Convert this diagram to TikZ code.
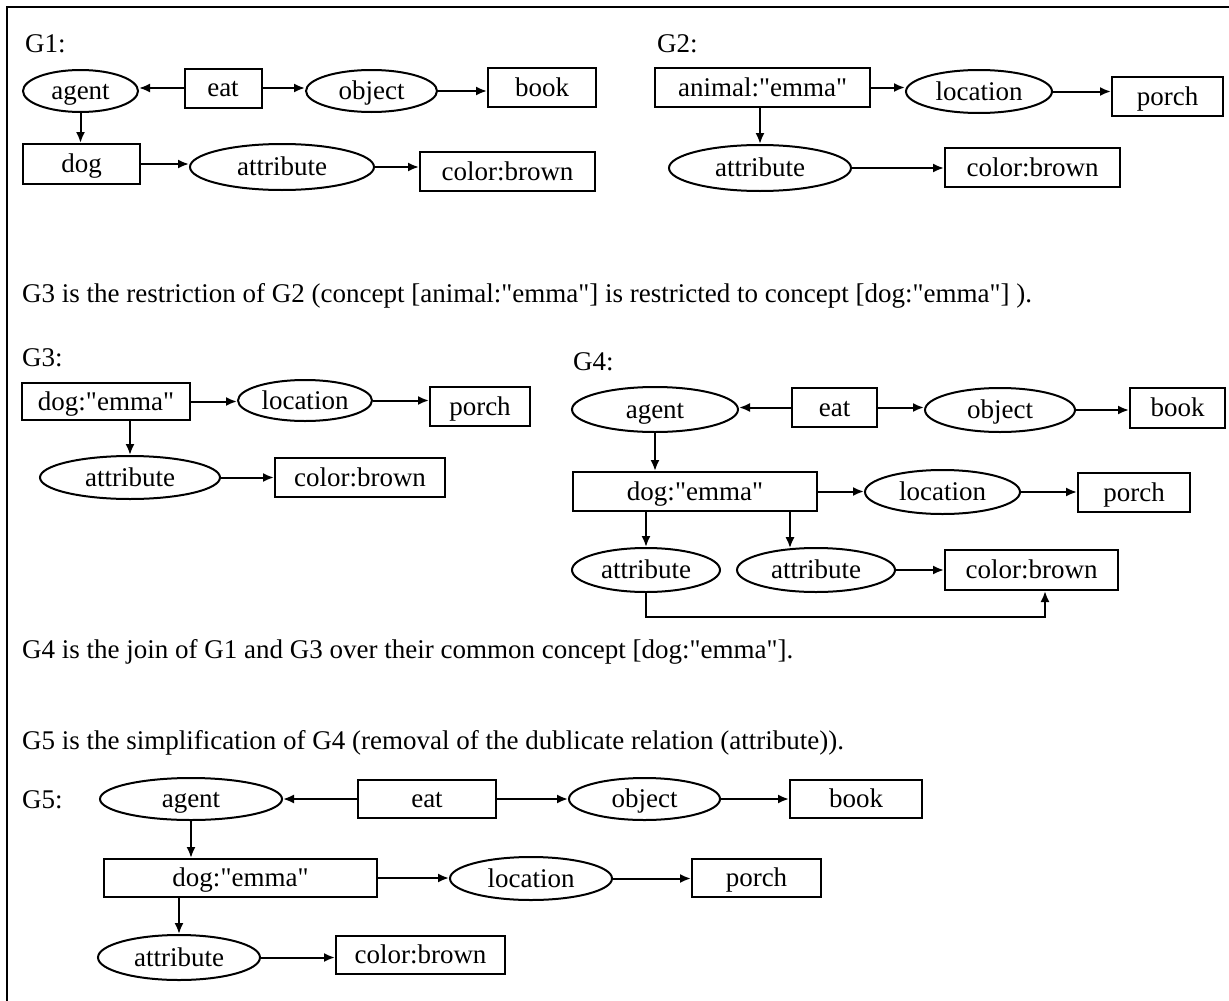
\documentclass[tikz,border=0pt]{standalone}
\usepackage{fontspec}
\setmainfont{Liberation Serif}
\usetikzlibrary{shapes.geometric,arrows.meta}
\newcommand{\qd}{\textquotedbl}
\tikzset{
  cbox/.style={draw, line width=2pt, rectangle, inner sep=0pt, text height=21pt, text depth=4pt},
  rel/.style={draw, line width=2pt, ellipse, inner sep=0pt, text height=21pt, text depth=4pt},
  arr/.style={line width=2pt, -{Latex[length=11pt,width=9pt]}},
  lbl/.style={anchor=west, inner sep=0pt},
  frame/.style={line width=2.4pt},
}
\begin{document}
\begin{tikzpicture}[x=1pt,y=-1pt,every node/.append style={font=\fontsize{27}{31}\selectfont}]
\useasboundingbox (0,0) rectangle (1229,1001);
\draw[frame] (7,1001) -- (7,7) -- (1229,7);

% ---------------- G1 ----------------
\node[lbl] (l1) at (25,44) {G1:};
\node[rel, minimum width=115, minimum height=42] (g1agent) at (80.5,91) {agent};
\node[cbox, minimum width=77, minimum height=39] (g1eat) at (223,88) {eat};
\node[rel, minimum width=131, minimum height=42] (g1obj) at (371.5,91) {object};
\node[cbox, minimum width=108, minimum height=39] (g1book) at (542,87.5) {book};
\node[cbox, minimum width=117, minimum height=40] (g1dog) at (81.5,164) {dog};
\node[rel, minimum width=184, minimum height=46] (g1attr) at (282,167) {attribute};
\node[cbox, minimum width=175, minimum height=39] (g1cb) at (507.5,171.5) {color:brown};
\draw[arr] (g1eat.west) -- (g1eat.west -| g1agent.east);
\draw[arr] (g1eat.east) -- (g1eat.east -| g1obj.west);
\draw[arr] (g1obj.east) -- (g1obj.east -| g1book.west);
\draw[arr] (g1agent.south) -- (g1agent.south |- g1dog.north);
\draw[arr] (g1dog.east) -- (g1dog.east -| g1attr.west);
\draw[arr] (g1attr.east) -- (g1attr.east -| g1cb.west);

% ---------------- G2 ----------------
\node[lbl] (l2) at (657,44) {G2:};
\node[cbox, minimum width=215, minimum height=39] (g2animal) at (762.5,87.5) {animal:\qd emma\qd};
\node[rel, minimum width=146, minimum height=43] (g2loc) at (979,91.5) {location};
\node[cbox, minimum width=111, minimum height=39] (g2porch) at (1167.5,96.5) {porch};
\node[rel, minimum width=182, minimum height=46] (g2attr) at (760,168) {attribute};
\node[cbox, minimum width=175, minimum height=39] (g2cb) at (1032.5,167.5) {color:brown};
\draw[arr] (g2animal.east) -- (g2animal.east -| g2loc.west);
\draw[arr] (g2loc.east) -- (g2loc.east -| g2porch.west);
\draw[arr] (g2animal.south -| g2attr.north) -- (g2attr.north);
\draw[arr] (g2attr.east) -- (g2attr.east -| g2cb.west);

% ---------------- sentence 1 ----------------
\node[lbl] (s1) at (22,296) {G3 is the restriction of G2 (concept [animal:\qd emma\qd] is restricted to concept [dog:\qd emma\qd] ).};

% ---------------- G3 ----------------
\node[lbl] (l3) at (22,358) {G3:};
\node[cbox, minimum width=168, minimum height=37] (g3dog) at (106,401.5) {dog:\qd emma\qd};
\node[rel, minimum width=134, minimum height=41] (g3loc) at (305,400.5) {location};
\node[cbox, minimum width=100, minimum height=39] (g3porch) at (480,406.5) {porch};
\node[rel, minimum width=180, minimum height=43] (g3attr) at (130,477.5) {attribute};
\node[cbox, minimum width=170, minimum height=39] (g3cb) at (360,477.5) {color:brown};
\draw[arr] (g3dog.east) -- (g3dog.east -| g3loc.west);
\draw[arr] (g3loc.east) -- (g3loc.east -| g3porch.west);
\draw[arr] (g3dog.south -| g3attr.north) -- (g3attr.north);
\draw[arr] (g3attr.east) -- (g3attr.east -| g3cb.west);

% ---------------- G4 ----------------
\node[lbl] (l4) at (573,362) {G4:};
\node[rel, minimum width=166, minimum height=45] (g4agent) at (655,409.5) {agent};
\node[cbox, minimum width=85, minimum height=39] (g4eat) at (834.5,407.5) {eat};
\node[rel, minimum width=150, minimum height=44] (g4obj) at (1000,410) {object};
\node[cbox, minimum width=95, minimum height=40] (g4book) at (1177.5,408) {book};
\node[cbox, minimum width=244, minimum height=39] (g4dog) at (695,491.5) {dog:\qd emma\qd};
\node[rel, minimum width=155, minimum height=44] (g4loc) at (942.5,492) {location};
\node[cbox, minimum width=112, minimum height=39] (g4porch) at (1134,492.5) {porch};
\node[rel, minimum width=148, minimum height=44] (g4attra) at (646,570) {attribute};
\node[rel, minimum width=158, minimum height=44] (g4attrb) at (816,570) {attribute};
\node[cbox, minimum width=173, minimum height=40] (g4cb) at (1031.5,570) {color:brown};
\coordinate (g4tb) at ([xshift=-26pt,yshift=-1.2pt]g4attrb.north);
\coordinate (g4low) at (0,617);
\coordinate (g4in) at ([xshift=13.5pt]g4cb.south);
\draw[arr] (g4eat.west) -- (g4eat.west -| g4agent.east);
\draw[arr] (g4eat.east) -- (g4eat.east -| g4obj.west);
\draw[arr] (g4obj.east) -- (g4obj.east -| g4book.west);
\draw[arr] (g4agent.south) -- (g4agent.south |- g4dog.north);
\draw[arr] (g4dog.east) -- (g4dog.east -| g4loc.west);
\draw[arr] (g4loc.east) -- (g4loc.east -| g4porch.west);
\draw[arr] (g4dog.south -| g4attra.north) -- (g4attra.north);
\draw[arr] (g4tb |- g4dog.south) -- (g4tb);
\draw[arr] (g4attrb.east) -- (g4attrb.east -| g4cb.west);
\draw[arr] (g4attra.south) -- (g4attra.south |- g4low) -| (g4in);

% ---------------- sentences 2, 3 ----------------
\node[lbl] (s2) at (22,652) {G4 is the join of G1 and G3 over their common concept [dog:\qd emma\qd].};
\node[lbl] (s3) at (22,743) {G5 is the simplification of G4 (removal of the dublicate relation (attribute)).};

% ---------------- G5 ----------------
\node[lbl] (l5) at (22,800) {G5:};
\node[rel, minimum width=182, minimum height=42] (g5agent) at (191,799) {agent};
\node[cbox, minimum width=138, minimum height=38] (g5eat) at (427,799) {eat};
\node[rel, minimum width=151, minimum height=42] (g5obj) at (644.5,799) {object};
\node[cbox, minimum width=132, minimum height=38] (g5book) at (856,799) {book};
\node[cbox, minimum width=273, minimum height=38] (g5dog) at (240.5,878) {dog:\qd emma\qd};
\node[rel, minimum width=162, minimum height=43] (g5loc) at (531,878.5) {location};
\node[cbox, minimum width=129, minimum height=38] (g5porch) at (756.5,878) {porch};
\node[rel, minimum width=162, minimum height=45] (g5attr) at (179,957.5) {attribute};
\node[cbox, minimum width=169, minimum height=38] (g5cb) at (420.5,955) {color:brown};
\draw[arr] (g5eat.west) -- (g5eat.west -| g5agent.east);
\draw[arr] (g5eat.east) -- (g5eat.east -| g5obj.west);
\draw[arr] (g5obj.east) -- (g5obj.east -| g5book.west);
\draw[arr] (g5agent.south) -- (g5agent.south |- g5dog.north);
\draw[arr] (g5dog.east) -- (g5dog.east -| g5loc.west);
\draw[arr] (g5loc.east) -- (g5loc.east -| g5porch.west);
\draw[arr] (g5dog.south -| g5attr.north) -- (g5attr.north);
\draw[arr] (g5attr.east) -- (g5attr.east -| g5cb.west);
\end{tikzpicture}
\end{document}
